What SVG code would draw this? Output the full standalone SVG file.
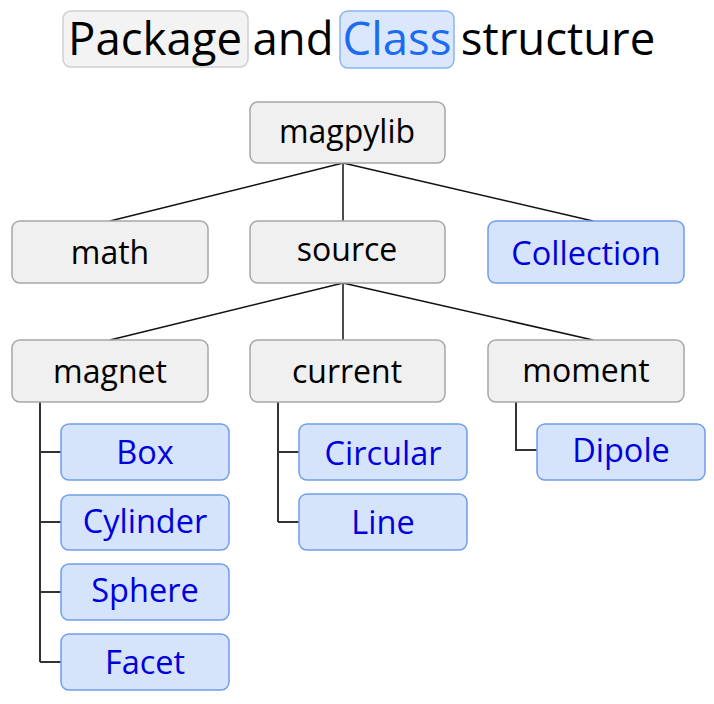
<svg xmlns="http://www.w3.org/2000/svg" width="714" height="704" viewBox="0 0 714 704">
  <style>
    text { font-family: "Open Sans", "Noto Sans", sans-serif; text-anchor: middle; }
    .pkg rect { fill: #f0f0f0; stroke: #a6a6a6; stroke-width: 1.5; }
    .cls rect { fill: #d5e3fb; stroke: #6f9fe6; stroke-width: 1.5; }
    .pkg text { fill: #000; font-size: 32px; }
    .cls text { fill: #0000dd; font-size: 32.5px; }
    .title { font-size: 45.5px; fill: #000; }
    #connectors path { fill: none; stroke: #111; stroke-width: 1.5; }
    #connectors .tree { stroke: #333; stroke-width: 2; }
  </style>

  <!-- title -->
  <g id="title">
    <rect x="63" y="11" width="185" height="56" rx="8" fill="#f3f3f3" stroke="#cfcfcf" stroke-width="1.5"/>
    <rect x="340" y="11" width="114" height="57" rx="8" fill="#dbe8fc" stroke="#8ab4ef" stroke-width="1.5"/>
    <text class="title" x="155" y="55">Package</text>
    <text class="title" x="293" y="55">and</text>
    <text class="title" x="397" y="55" style="fill:#1a6cf0">Class</text>
    <text class="title" x="558" y="55">structure</text>
  </g>

  <!-- connectors -->
  <g id="connectors">
    <path d="M343 163 L110 221"/>
    <path d="M343 163 L343 221"/>
    <path d="M343 163 L593 221"/>
    <path d="M343 283 L110 340"/>
    <path d="M343 283 L343 340"/>
    <path d="M343 283 L593 340"/>
    <path class="tree" d="M40 402 L40 662 M40 452 L61 452 M40 522 L61 522 M40 592 L61 592 M40 662 L61 662"/>
    <path class="tree" d="M278 402 L278 522 M278 452 L299 452 M278 522 L299 522"/>
    <path class="tree" d="M516 402 L516 450 L537 450"/>
  </g>

  <!-- packages -->
  <g id="magpylib" class="pkg"><rect x="250" y="102" width="195" height="61" rx="8"/><text x="347" y="143">magpylib</text></g>
  <g id="math" class="pkg"><rect x="12" y="221" width="196" height="62" rx="8"/><text x="110" y="264">math</text></g>
  <g id="source" class="pkg"><rect x="250" y="221" width="195" height="62" rx="8"/><text x="347" y="261">source</text></g>
  <g id="magnet" class="pkg"><rect x="12" y="340" width="196" height="62" rx="8"/><text x="110" y="383">magnet</text></g>
  <g id="current" class="pkg"><rect x="250" y="340" width="195" height="62" rx="8"/><text x="347" y="383">current</text></g>
  <g id="moment" class="pkg"><rect x="488" y="340" width="196" height="62" rx="8"/><text x="586" y="382">moment</text></g>

  <!-- classes -->
  <g id="Collection" class="cls"><rect x="488" y="221" width="196" height="62" rx="8"/><text x="586" y="265">Collection</text></g>
  <g id="Box" class="cls"><rect x="61" y="424" width="168" height="56" rx="8"/><text x="145" y="464">Box</text></g>
  <g id="Cylinder" class="cls"><rect x="61" y="495" width="168" height="55" rx="8"/><text x="145" y="533">Cylinder</text></g>
  <g id="Sphere" class="cls"><rect x="61" y="564" width="168" height="56" rx="8"/><text x="145" y="602">Sphere</text></g>
  <g id="Facet" class="cls"><rect x="61" y="634" width="168" height="56" rx="8"/><text x="145" y="674">Facet</text></g>
  <g id="Circular" class="cls"><rect x="299" y="424" width="168" height="56" rx="8"/><text x="383" y="465">Circular</text></g>
  <g id="Line" class="cls"><rect x="299" y="494" width="168" height="56" rx="8"/><text x="383" y="534">Line</text></g>
  <g id="Dipole" class="cls"><rect x="537" y="424" width="168" height="56" rx="8"/><text x="621" y="462">Dipole</text></g>
</svg>
